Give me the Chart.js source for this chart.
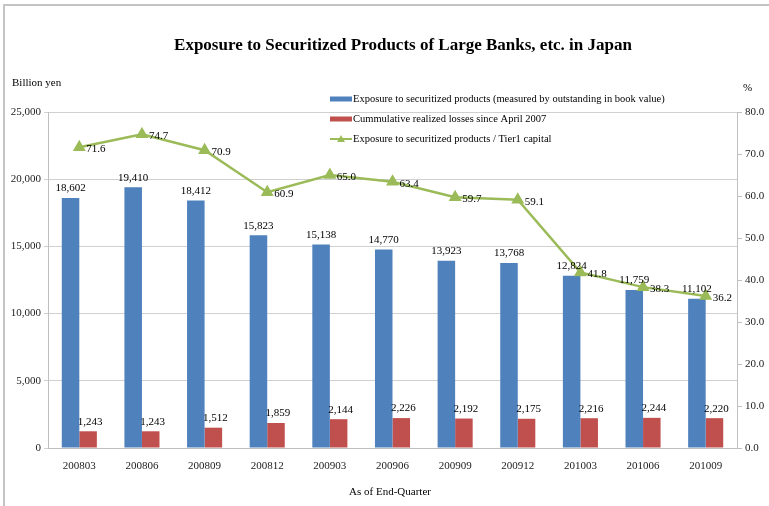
<!DOCTYPE html>
<html>
<head>
<meta charset="utf-8">
<script src="https://cdn.jsdelivr.net/npm/chart.js@4/dist/chart.umd.min.js"></script>
<style>
  html, body { margin: 0; padding: 0; background: #fff; }
  #wrap { width: 769px; height: 506px; position: relative; }
</style>
</head>
<body>
<div id="wrap"><canvas id="chart"></canvas></div>
<script>
"use strict";

// quarter-end labels
const quarters = ["200803", "200806", "200809", "200812", "200903", "200906",
  "200909", "200912", "201003", "201006", "201009"];
// billion yen
const exposure = [18602, 19410, 18412, 15823, 15138, 14770, 13923, 13768, 12824, 11759, 11102];
const losses = [1243, 1243, 1512, 1859, 2144, 2226, 2192, 2175, 2216, 2244, 2220];
// percent
const tier1Ratio = [71.6, 74.7, 70.9, 60.9, 65.0, 63.4, 59.7, 59.1, 41.8, 38.3, 36.2];

const seriesNames = [
  "Exposure to securitized products (measured by outstanding in book value)",
  "Cummulative realized losses since April 2007",
  "Exposure to securitized products / Tier1 capital",
];

const SERIF = "'Liberation Serif', 'Times New Roman', serif";
const BLUE = "#4F81BD", RED = "#C0504D", GREEN = "#9BBB59";

/**
 * Draws frame, title, unit labels, legend and value labels
 */
const decorations = {
  id: "decorations",
  beforeDraw(chart) {
    const ctx = chart.ctx;
    ctx.save();
    ctx.strokeStyle = "#c4c4c4";
    ctx.lineWidth = 2;
    ctx.beginPath();
    ctx.moveTo(4, 506);
    ctx.lineTo(4, 5);
    ctx.lineTo(769, 5);
    ctx.stroke();
    ctx.restore();
  },
  afterDatasetsDraw(chart) {
    const ctx = chart.ctx;
    ctx.save();
    ctx.fillStyle = "#000";

    // title
    ctx.font = "bold 17px " + SERIF;
    ctx.textAlign = "center";
    ctx.textBaseline = "middle";
    ctx.fillText("Exposure to Securitized Products of Large Banks, etc. in Japan", 403, 46);

    // axis units
    ctx.font = "11px " + SERIF;
    ctx.textAlign = "left";
    ctx.fillText("Billion yen", 12, 83);
    ctx.fillText("%", 743, 88);
    ctx.textAlign = "center";
    ctx.fillText("As of End-Quarter", 390, 492);

    // legend
    ctx.font = "10.5px " + SERIF;
    ctx.textAlign = "left";
    const rows = [99, 119, 139];
    ctx.fillStyle = BLUE;
    ctx.fillRect(330, rows[0] - 2.5, 22, 5);
    ctx.fillStyle = RED;
    ctx.fillRect(330, rows[1] - 2.5, 22, 5);
    ctx.strokeStyle = GREEN;
    ctx.lineWidth = 2;
    ctx.beginPath();
    ctx.moveTo(330, rows[2]);
    ctx.lineTo(352, rows[2]);
    ctx.stroke();
    ctx.fillStyle = GREEN;
    ctx.beginPath();
    ctx.moveTo(341, rows[2] - 4);
    ctx.lineTo(345, rows[2] + 3);
    ctx.lineTo(337, rows[2] + 3);
    ctx.closePath();
    ctx.fill();
    ctx.fillStyle = "#000";
    seriesNames.forEach((name, i) => ctx.fillText(name, 353, rows[i]));

    // value labels
    ctx.font = "11px " + SERIF;
    ctx.textAlign = "center";
    ctx.textBaseline = "bottom";
    [0, 1].forEach((di) => {
      chart.getDatasetMeta(di).data.forEach((bar, i) => {
        const v = chart.data.datasets[di].data[i];
        ctx.fillText(v.toLocaleString("en-US"), bar.x + (di === 1 ? 2 : 0), bar.y - 4);
      });
    });
    ctx.textAlign = "left";
    ctx.textBaseline = "middle";
    chart.getDatasetMeta(2).data.forEach((pt, i) => {
      ctx.fillText(tier1Ratio[i].toFixed(1), pt.x + 7, pt.y + 2);
    });
    ctx.restore();
  },
};

function buildChart() {
  const canvas = document.getElementById("chart");
  return new Chart(canvas, {
    type: "bar",
    data: {
      labels: quarters,
      datasets: [
        {
          label: seriesNames[0],
          data: exposure,
          backgroundColor: BLUE,
          yAxisID: "y",
          order: 2,
          categoryPercentage: 0.56,
          barPercentage: 1,
        },
        {
          label: seriesNames[1],
          data: losses,
          backgroundColor: RED,
          yAxisID: "y",
          order: 2,
          categoryPercentage: 0.56,
          barPercentage: 1,
        },
        {
          type: "line",
          label: seriesNames[2],
          data: tier1Ratio,
          borderColor: GREEN,
          backgroundColor: GREEN,
          borderWidth: 2.5,
          pointStyle: "triangle",
          pointRadius: 5,
          yAxisID: "y1",
          order: 0,
        },
      ],
    },
    options: {
      responsive: true,
      maintainAspectRatio: false,
      animation: false,
      layout: { padding: { top: 112, left: 0, right: 0, bottom: 0 } },
      plugins: {
        legend: { display: false },
        tooltip: { enabled: false },
      },
      scales: {
        x: {
          grid: { display: false },
          border: { display: true, color: "#bfbfbf" },
          ticks: { font: { family: SERIF, size: 11 }, color: "#222", padding: 4 },
          afterFit: (s) => { s.height = 58; },
        },
        y: {
          position: "left",
          min: 0,
          max: 25000,
          ticks: {
            stepSize: 5000,
            font: { family: SERIF, size: 11 },
            color: "#222",
            padding: 3,
            callback: (v) => v.toLocaleString("en-US"),
          },
          grid: { color: "#d0d0d0", tickLength: 4 },
          border: { display: true, color: "#bfbfbf" },
          afterFit: (s) => { s.width = 48; },
        },
        y1: {
          position: "right",
          min: 0,
          max: 80,
          ticks: {
            stepSize: 10,
            font: { family: SERIF, size: 11 },
            color: "#222",
            padding: 3,
            callback: (v) => v.toFixed(1),
          },
          grid: { drawOnChartArea: false, color: "#bfbfbf", tickLength: 5 },
          border: { display: true, color: "#bfbfbf" },
          afterFit: (s) => { s.width = 32; },
        },
      },
    },
    plugins: [decorations],
  });
}

buildChart();
</script>
</body>
</html>
